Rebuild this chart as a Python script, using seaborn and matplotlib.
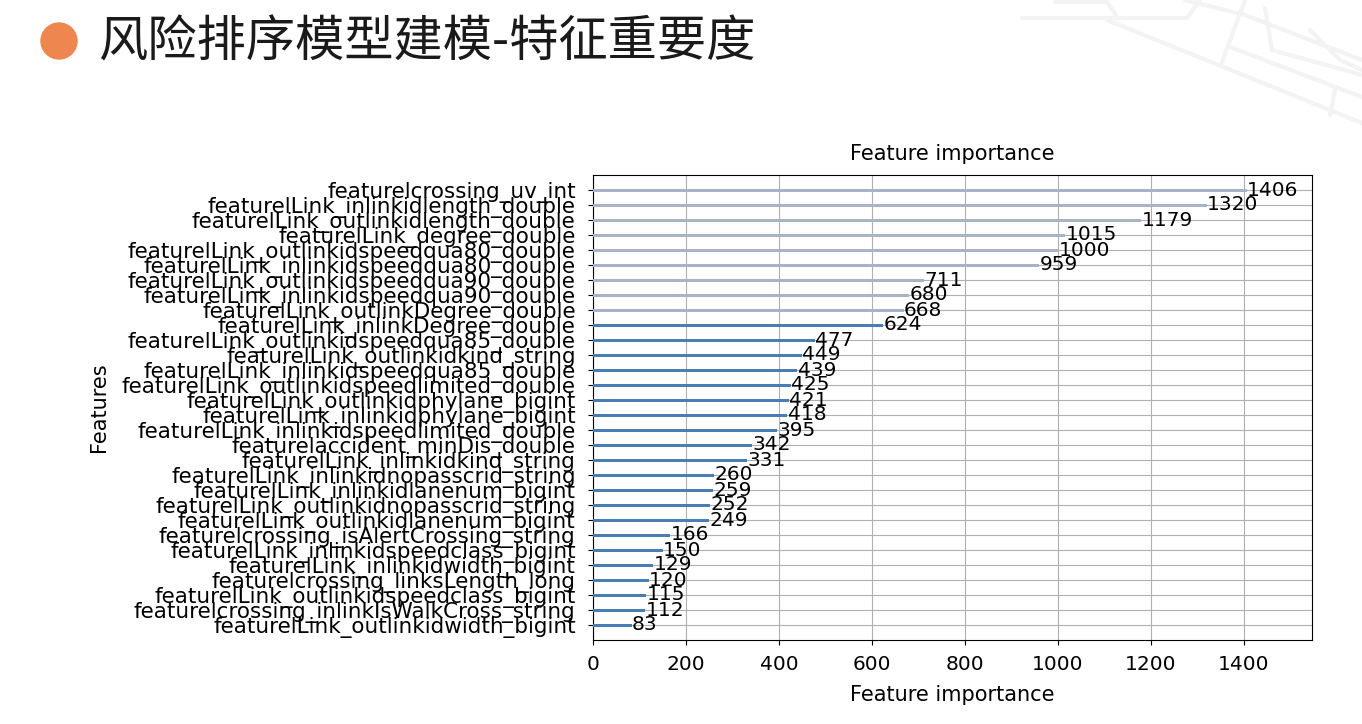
import matplotlib
matplotlib.use("Agg")
import matplotlib.pyplot as plt
from matplotlib.lines import Line2D
from matplotlib.patches import Circle
import seaborn as sns

# feature importance (split count), top to bottom as in the lightgbm plot
features = [
    "featurelcrossing_uv_int",
    "featurelLink_inlinkidlength_double",
    "featurelLink_outlinkidlength_double",
    "featurelLink_degree_double",
    "featurelLink_outlinkidspeedqua80_double",
    "featurelLink_inlinkidspeedqua80_double",
    "featurelLink_outlinkidspeedqua90_double",
    "featurelLink_inlinkidspeedqua90_double",
    "featurelLink_outlinkDegree_double",
    "featurelLink_inlinkDegree_double",
    "featurelLink_outlinkidspeedqua85_double",
    "featurelLink_outlinkidkind_string",
    "featurelLink_inlinkidspeedqua85_double",
    "featurelLink_outlinkidspeedlimited_double",
    "featurelLink_outlinkidphylane_bigint",
    "featurelLink_inlinkidphylane_bigint",
    "featurelLink_inlinkidspeedlimited_double",
    "featurelaccident_minDis_double",
    "featurelLink_inlinkidkind_string",
    "featurelLink_inlinkidnopasscrid_string",
    "featurelLink_inlinkidlanenum_bigint",
    "featurelLink_outlinkidnopasscrid_string",
    "featurelLink_outlinkidlanenum_bigint",
    "featurelcrossing_isAlertCrossing_string",
    "featurelLink_inlinkidspeedclass_bigint",
    "featurelLink_inlinkidwidth_bigint",
    "featurelcrossing_linksLength_long",
    "featurelLink_outlinkidspeedclass_bigint",
    "featurelcrossing_inlinkIsWalkCross_string",
    "featurelLink_outlinkidwidth_bigint",
]
importance = [1406, 1320, 1179, 1015, 1000, 959, 711, 680, 668, 624,
              477, 449, 439, 425, 421, 418, 395, 342, 331, 260,
              259, 252, 249, 166, 150, 129, 120, 115, 112, 83]

slide_title = "风险排序模型建模-特征重要度"

# the top bars look washed out in the screenshot, the rest steel blue
bar_colors = ["#a6b4c6"] * 9 + ["#4a7db3"] * 21

plt.rcParams['font.family'] = ['DejaVu Sans', 'Noto Sans CJK SC']

fig = plt.figure(figsize=(13.62, 7.24), dpi=100)
fig.patch.set_facecolor("white")

# slide header, drawn in pixel coords on a background axes
hdr = fig.add_axes([0, 0, 1, 1], zorder=-1)
hdr.set_xlim(0, 1362)
hdr.set_ylim(724, 0)
hdr.axis("off")
hdr.add_patch(Circle((59, 41), 18, color="#ee8650"))
hdr.text(98, 42, slide_title, fontsize=35.5, va="center", ha="left",
         family=["Noto Sans CJK SC", "DejaVu Sans"], color="#1a1a1a")
# faint map lines top right
for xs, ys in [
    ([1022, 1187, 1200], [18, 18, 0]),
    ([1055, 1107, 1118], [2, 2, 18]),
    ([1107, 1362], [20, 123]),
    ([1230, 1362], [47, 97]),
    ([1245, 1222], [0, 62]),
    ([1185, 1245, 1362], [0, 15, 60]),
    ([1265, 1272, 1362], [8, 50, 75]),
    ([1310, 1340, 1362], [30, 60, 70]),
    ([1335, 1330], [90, 115]),
]:
    hdr.add_line(Line2D(xs, ys, color="#f3f3f3", lw=3, solid_capstyle="round"))

ax = fig.add_axes([593 / 1362, 1 - 640 / 724, (1312 - 593) / 1362, (640 - 175) / 724])
sns.barplot(x=importance, y=features, hue=features, palette=bar_colors,
            orient="h", width=0.2, saturation=1, errorbar=None,
            legend=False, dodge=False, ax=ax, zorder=3)
ax.set_xlim(0, max(importance) * 1.1)
ax.set_ylim(len(features), -1)
ax.grid(True, color="#b0b0b0", linewidth=0.8, zorder=0)
ax.set_axisbelow(True)
for i, v in enumerate(importance):
    ax.text(v + 1, i, str(v), va="center", fontsize=14.5, zorder=4)

ax.set_title("Feature importance", fontsize=15, pad=11)
ax.set_xlabel("Feature importance", fontsize=15, labelpad=8)
ax.set_ylabel("Features", fontsize=15, labelpad=9)
ax.tick_params(axis="x", labelsize=14.5, pad=7)
ax.tick_params(axis="y", labelsize=15.5, pad=9)
for s in ax.spines.values():
    s.set_color("black")
    s.set_linewidth(0.8)

fig.savefig("out.png", dpi=100)
